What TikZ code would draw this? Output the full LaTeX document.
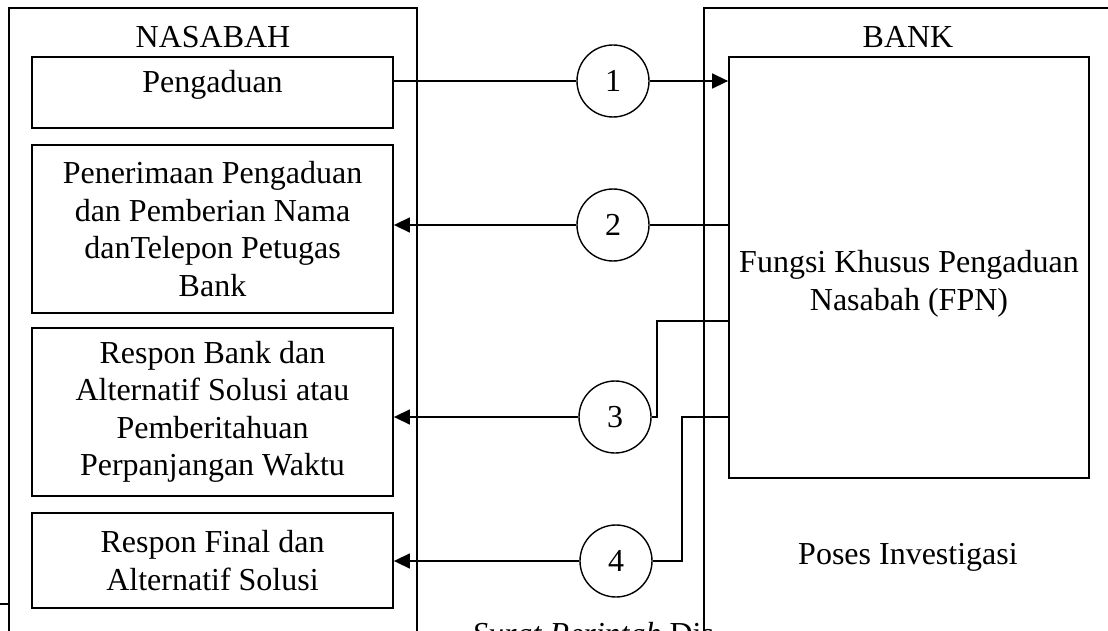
\documentclass[tikz,border=0pt]{standalone}
\usepackage{fontspec}
\setmainfont{Liberation Serif}
\usetikzlibrary{arrows.meta}
\begin{document}
\begin{tikzpicture}[x=1pt,y=-1pt,
  every node/.style={font=\fontsize{32}{37.5}\selectfont},
  lane/.style={line width=1.8pt},
  boxnode/.style={draw,line width=1.8pt,inner sep=0pt,align=center},
  numc/.style={draw,circle,line width=1.4pt,minimum size=72pt,inner sep=0pt},
  conn/.style={line width=1.5pt},
  arr/.style={line width=1.5pt,-{Triangle[length=16pt,width=15pt]}}]
\useasboundingbox (0,0) rectangle (1108,631);
% swimlanes
\draw[lane] (9,660) -- (9,8) -- (417,8) -- (417,660);
\draw[lane] (704,660) -- (704,8) -- (1130,8);
\draw[lane] (0,604) -- (9,604);
\node[anchor=base] (hn) at (213,48) {NASABAH};
\node[anchor=base] (hb) at (908,48) {BANK};
% nasabah boxes
\node[boxnode,minimum width=361pt,minimum height=71pt] (p1) at (212.5,92.5) {};
\node[anchor=base] (t1) at (212.5,93) {Pengaduan};
\node[boxnode,minimum width=361pt,minimum height=168pt] (p2) at (212.5,229)
  {Penerimaan Pengaduan\\dan Pemberian Nama\\danTelepon Petugas\\Bank};
\node[boxnode,minimum width=361pt,minimum height=168pt] (p3) at (212.5,412)
  {Respon Bank dan\\Alternatif Solusi atau\\Pemberitahuan\\Perpanjangan Waktu};
\node[boxnode,minimum width=361pt,minimum height=95pt] (p4) at (212.5,560.5)
  {Respon Final dan\\Alternatif Solusi};
% bank
\node[boxnode,minimum width=360pt,minimum height=421pt] (fpn) at (909,267.5) {};
\node[align=center] (tf) at (909,284) {Fungsi Khusus Pengaduan\\Nasabah (FPN)};
\node[anchor=base] (inv) at (908,564) {Poses Investigasi};
% circles
\node[numc] (c1) at (613,81) {1};
\node[numc] (c2) at (613,225) {2};
\node[numc] (c3) at (615,417) {3};
\node[numc] (c4) at (616,561) {4};
\coordinate (k3) at (657,321);
\coordinate (k4) at (682,417);
% connectors
\draw[conn] (p1.east |- c1) -- (c1);
\draw[arr] (c1) -- (c1 -| fpn.west);
\draw[conn] (fpn.west |- c2) -- (c2);
\draw[arr] (c2) -- (c2 -| p2.east);
\draw[conn] (k3 -| fpn.west) -- (k3) |- (c3);
\draw[arr] (c3) -- (c3 -| p3.east);
\draw[conn] (k4 -| fpn.west) -- (k4) |- (c4);
\draw[arr] (c4) -- (c4 -| p4.east);
% cut-off caption at the bottom edge
\node[anchor=base west,inner sep=0pt] (cap) at (472,644) {\textit{Surat Perintah} Dis};
\end{tikzpicture}
\end{document}
